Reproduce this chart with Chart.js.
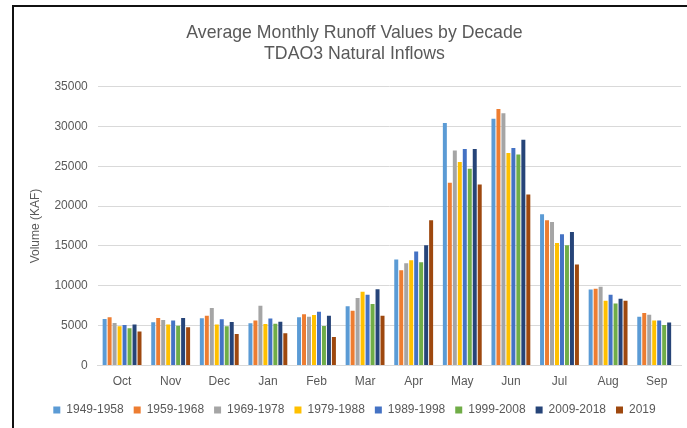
<!DOCTYPE html>
<html>
<head>
<meta charset="utf-8">
<script src="https://cdn.jsdelivr.net/npm/chart.js@4/dist/chart.umd.min.js"></script>
<style>
  html, body { margin: 0; padding: 0; background: #fff; width: 687px; height: 428px; overflow: hidden; }
  #frame { position: absolute; left: 12px; top: 5px; width: 675px; height: 423px;
           border-top: 2px solid #111; border-left: 2px solid #111; }
  #c { position: absolute; left: 0; top: 0; }
</style>
</head>
<body>
<div id="frame"><canvas id="c" width="673" height="421"></canvas></div>
<script>
const months = ['Oct','Nov','Dec','Jan','Feb','Mar','Apr','May','Jun','Jul','Aug','Sep'];
const decades = ['1949-1958','1959-1968','1969-1978','1979-1988','1989-1998','1999-2008','2009-2018','2019'];

const d1949 = [5830, 5420, 5920, 5290, 6040, 7420, 13290, 30420, 30960, 18960, 9540, 6130];
const d1959 = [6040, 5960, 6250, 5630, 6420, 6880, 11960, 22920, 32170, 18210, 9630, 6580];
const d1969 = [5330, 5710, 7210, 7500, 6130, 8460, 12830, 26960, 31630, 18000, 9880, 6380];
const d1979 = [4920, 5130, 5130, 5210, 6330, 9250, 13210, 25540, 26670, 15380, 8130, 5630];
const d1989 = [5080, 5630, 5790, 5880, 6750, 8880, 14290, 27170, 27290, 16460, 8880, 5630];
const d1999 = [4670, 5000, 4920, 5250, 4960, 7710, 12960, 24670, 26460, 15080, 7790, 5080];
const d2009 = [5130, 5960, 5460, 5500, 6250, 9580, 15080, 27170, 28330, 16750, 8380, 5380];
const d2019 = [4250, 4790, 3960, 4040, 3580, 6250, 18210, 22710, 21460, 12670, 8130, null];

const yTicks = [0, 5000, 10000, 15000, 20000, 25000, 30000, 35000];

const seriesValues = [d1949, d1959, d1969, d1979, d1989, d1999, d2009, d2019];
const colors = ['#5B9BD5','#ED7D31','#A5A5A5','#FFC000','#4472C4','#70AD47','#264478','#9E480E'];

const FONT = "'Liberation Sans', Arial, sans-serif";
const TXT = '#595959';

new Chart(document.getElementById('c'), {
  type: 'bar',
  data: {
    labels: months,
    datasets: decades.map((name, i) => ({
      label: name,
      data: seriesValues[i],
      backgroundColor: colors[i],
      borderWidth: 0,
      categoryPercentage: 0.82,
      barPercentage: 0.8
    }))
  },
  options: {
    responsive: false,
    animation: false,
    devicePixelRatio: 1,
    layout: { padding: { left: 14, right: 6, top: 0, bottom: 2 } },
    plugins: {
      title: {
        display: true,
        text: ['Average Monthly Runoff Values by Decade', 'TDAO3 Natural Inflows'],
        color: TXT,
        font: { family: FONT, size: 17.7, weight: 'normal', lineHeight: 1.2 },
        padding: { top: 15, bottom: 22 }
      },
      legend: {
        position: 'bottom',
        labels: {
          color: TXT,
          boxWidth: 7,
          boxHeight: 7,
          padding: 10,
          font: { family: FONT, size: 12 }
        }
      },
      tooltip: { enabled: false }
    },
    scales: {
      x: {
        grid: { display: false, drawTicks: false },
        border: { display: true, color: '#d9d9d9', width: 1 },
        ticks: { color: TXT, padding: 8, font: { family: FONT, size: 12, lineHeight: 1.3 } },
        afterFit: (axis) => { axis.height = 28.5; }
      },
      y: {
        min: 0,
        max: 35000,
        afterBuildTicks: (axis) => { axis.ticks = yTicks.map(v => ({ value: v })); },
        grid: { color: '#d9d9d9', drawTicks: false },
        border: { display: false },
        ticks: { color: TXT, padding: 10, font: { family: FONT, size: 12 },
                 callback: (v) => String(v) },
        title: {
          display: true,
          text: 'Volume (KAF)',
          color: TXT,
          font: { family: FONT, size: 12 },
          padding: { top: 0, bottom: 2 }
        }
      }
    }
  }
});
</script>
</body>
</html>
